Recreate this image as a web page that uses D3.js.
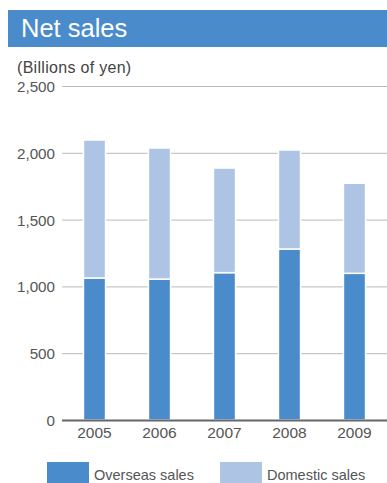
<!DOCTYPE html>
<html>
<head>
<meta charset="utf-8">
<script src="https://cdn.jsdelivr.net/npm/d3@7"></script>
<style>
  body { margin: 0; background: #fff; }
  svg { display: block; font-family: "Liberation Sans", Arial, sans-serif; }
</style>
</head>
<body>
<div id="chart"></div>
<script>
// chart size
const width = 387;
const height = 483;

// data
const years = ["2005", "2006", "2007", "2008", "2009"];
const overseas = [1063, 1055, 1103, 1280, 1098];
const domestic = [1033, 981, 783, 741, 674];
const yTicks = [0, 500, 1000, 1500, 2000, 2500];
const seriesNames = ["Overseas sales", "Domestic sales"];

const colors = ["#4a8bcb", "#aec4e5"];

const svg = d3.select("#chart")
  .append("svg")
  .attr("width", width)
  .attr("height", height);

// title band
svg.append("rect")
  .attr("x", 8).attr("y", 10)
  .attr("width", width - 8).attr("height", 37)
  .attr("fill", "#4a8bcb");
svg.append("text")
  .attr("x", 21).attr("y", 37)
  .attr("fill", "#fff")
  .attr("font-size", "25.5px")
  .text("Net sales");

svg.append("text")
  .attr("x", 17).attr("y", 72.5)
  .attr("fill", "#444")
  .attr("font-size", "16px")
  .attr("letter-spacing", "0.3px")
  .text("(Billions of yen)");

// scales
const x = d3.scaleBand()
  .domain(years)
  .range([62, 387])
  .paddingInner(0.66)
  .paddingOuter(0.33);

const y = d3.scaleLinear()
  .domain([0, 2500])
  .range([420, 86]);

// gridlines
svg.append("g")
  .selectAll("line")
  .data(yTicks.filter(d => d > 0))
  .enter()
  .append("line")
  .attr("x1", 62).attr("x2", width)
  .attr("y1", d => y(d) + 0.5).attr("y2", d => y(d) + 0.5)
  .attr("stroke", "#bbb")
  .attr("stroke-width", 1);

// y labels
svg.append("g")
  .selectAll("text")
  .data(yTicks)
  .enter()
  .append("text")
  .attr("x", 55)
  .attr("y", d => y(d) + 6)
  .attr("text-anchor", "end")
  .attr("fill", "#555")
  .attr("font-size", "15.2px")
  .text(d => d3.format(",")(d));

// stacked bars
const rows = years.map((yr, i) => ({ year: yr, overseas: overseas[i], domestic: domestic[i] }));
const stack = d3.stack().keys(["overseas", "domestic"])(rows);

svg.append("g")
  .selectAll("g")
  .data(stack)
  .enter()
  .append("g")
  .attr("fill", (d, i) => colors[i])
  .selectAll("rect")
  .data(d => d)
  .enter()
  .append("rect")
  .attr("x", d => x(d.data.year))
  .attr("y", d => y(d[1]))
  .attr("width", x.bandwidth())
  .attr("height", d => y(d[0]) - y(d[1]))
  .attr("stroke", "#fff")
  .attr("stroke-width", 1.5);

// zero line
svg.append("line")
  .attr("x1", 62).attr("x2", width)
  .attr("y1", y(0) + 0.5).attr("y2", y(0) + 0.5)
  .attr("stroke", "#666")
  .attr("stroke-width", 2);

// x labels
svg.append("g")
  .selectAll("text")
  .data(years)
  .enter()
  .append("text")
  .attr("x", d => x(d) + x.bandwidth() / 2)
  .attr("y", 438)
  .attr("text-anchor", "middle")
  .attr("fill", "#555")
  .attr("font-size", "15.5px")
  .text(d => d);

// legend
const legend = svg.append("g");
const legendX = [47, 220];
legend.selectAll("rect")
  .data(seriesNames)
  .enter()
  .append("rect")
  .attr("x", (d, i) => legendX[i])
  .attr("y", 462)
  .attr("width", 42)
  .attr("height", 22)
  .attr("fill", (d, i) => colors[i]);
legend.selectAll("text")
  .data(seriesNames)
  .enter()
  .append("text")
  .attr("x", (d, i) => legendX[i] + 47)
  .attr("y", 480)
  .attr("fill", "#555")
  .attr("font-size", "14.5px")
  .text(d => d);
</script>
</body>
</html>
